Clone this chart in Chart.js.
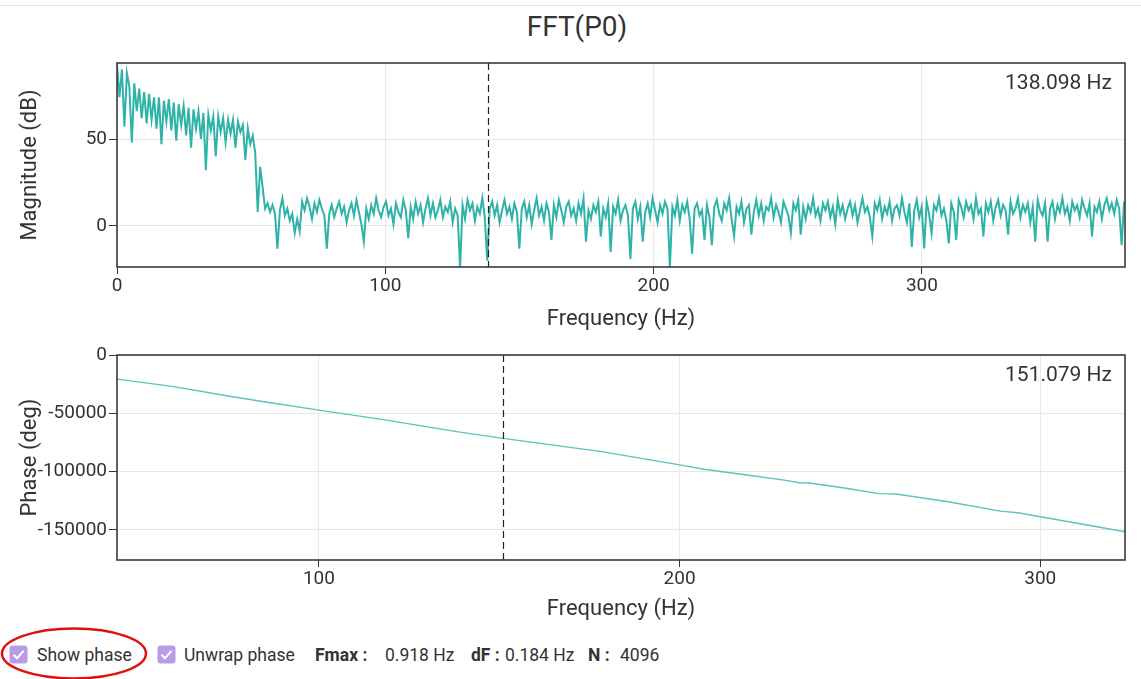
<!DOCTYPE html>
<html>
<head>
<meta charset="utf-8">
<script src="https://cdn.jsdelivr.net/npm/chart.js@4.4.1/dist/chart.umd.min.js"></script>
<style>
  body{margin:0;width:1141px;height:679px;background:#fff;position:relative;overflow:hidden;font-family:Roboto,"Noto Sans",sans-serif;color:#333}
  .topline{position:absolute;left:0;right:0;top:5px;height:1px;background:#e2e2e2;box-shadow:0 1px 3px rgba(0,0,0,0.05)}
  #title{position:absolute;left:477px;width:200px;top:10px;text-align:center;font-size:28px;line-height:33px;color:#333}
  .cw{position:absolute;left:0;width:1141px;height:300px}
  #w1{top:40px}
  #w2{top:330px}
  .lbl{position:absolute;top:645px;font-size:17.5px;line-height:20px;color:#333;white-space:nowrap}
  .b{font-weight:bold}
  .cb{position:absolute;top:645px}
  #ring{position:absolute;left:0;top:626px}
</style>
</head>
<body>
<div class="topline"></div>
<div id="title">FFT(P0)</div>
<div class="cw" id="w1"><canvas id="c1" width="1141" height="300"></canvas></div>
<div class="cw" id="w2"><canvas id="c2" width="1141" height="300"></canvas></div>

<svg class="cb" style="left:9px" width="19" height="19"><rect x="0.5" y="0.5" width="18" height="18" rx="3" fill="#b79ce8"/><path d="M4.5 9.8 L8 13.2 L14.5 5.8" stroke="#fff" stroke-width="2" fill="none"/></svg>
<span class="lbl" style="left:37px">Show phase</span>
<svg class="cb" style="left:157px" width="19" height="19"><rect x="0.5" y="0.5" width="18" height="18" rx="3" fill="#b79ce8"/><path d="M4.5 9.8 L8 13.2 L14.5 5.8" stroke="#fff" stroke-width="2" fill="none"/></svg>
<span class="lbl" style="left:184px">Unwrap phase</span>
<span class="lbl b" style="left:315px">Fmax :</span>
<span class="lbl" style="left:385px">0.918 Hz</span>
<span class="lbl b" style="left:471px">dF :</span>
<span class="lbl" style="left:505px">0.184 Hz</span>
<span class="lbl b" style="left:588px">N :</span>
<span class="lbl" style="left:620px">4096</span>
<svg id="ring" width="152" height="54"><ellipse cx="74" cy="27.5" rx="72" ry="25" fill="none" stroke="#e01010" stroke-width="2.5"/></svg>

<script>
// ---------- DATA ----------
const magFreqStep = 0.92;           // Hz between magnitude samples
const magValues = [
  93, 74, 90, 57, 88, 80, 48, 82, 66, 79,
  62, 77, 59, 76, 61, 74, 56, 74, 47, 72,
  60, 73, 55, 71, 49, 70, 58, 69, 52, 68,
  45, 67, 56, 66, 50, 65, 32, 64, 55, 63,
  40, 63, 54, 62, 48, 61, 53, 61, 45, 60,
  54, 58, 38, 56, 47, 52, 42, 8, 34, 22,
  10, 13, 8, 12, 7, -13, 9, 16, 6, 10,
  3, 7, -4, 4, -3,
  14, 9, 16, 11, 4, 13, 8, 15, 10, 6,
  -13, 7, 12, 5, 10, 14, 7, 11, 2, 9,
  13, 6, 15, 8, 1, -9, 10, 4, 12, 7,
  16, 9, 5, 11, 14, 6, 10, 1, 13, 8,
  5, 15, 9, -7, 11, 4, 14, 7, 12, 2,
  10, 16, 6, 13, 5, 9, 15, 5, 11, 8,
  14, 2, 10, 6, -24, 12, 4, 15, 9, 13,
  3, 11, 7, 16, 5, -20, 10, 14, 6, 12,
  2, 9, 15, 7, 11, 4, 13, 8, -13, 10,
  14, 5, 12, 1, 9, 16, 6, 11, 3, 13,
  8, -8, 12, 5, 15, 9, 2, 11, 14, 6,
  10, 3, 13, 7, 16, -9, 9, 4, 12, 8,
  14, -6, 10, 5, 13, -15, 11, 7, 15, 3,
  9, 12, 6, -19, 10, 14, 4, 11, -9, 8,
  13, 5, 16, 9, 2, 12, 7, 14, 10, -24,
  11, 6, 15, 3, 12, 8, 14, 4, -16, 10,
  13, 6, 9, -8, 12, 5, -11, 11, 15, 7,
  3, 13, 9, 16, 4, -6, 11, 7, 14, 2,
  10, 12, -5, 8, 15, 6, 13, 3, 11, 9,
  16, 5, 12, 8, 2, 14, 10, 6, -4, 13,
  9, 15, -5, 11, 4, 12, 8, 16, 6, 10,
  3, 13, 9, 14, 5, 11, 1, 15, 7, 12,
  4, 10, 14, 6, 12, 2, 9, 16, 8, 11,
  5, -6, 13, 9, 15, 4, 11, 7, 14, 3,
  10, 12, 6, 16, 8, 2, 13, -12, 9, 15,
  5, 11, -13, 14, 7, -4, 12, 9, 16, 6,
  10, 3, -10, 13, 8, -8, 15, 11, 5, 14,
  9, 12, 4, 16, 7, 10, -6, 13, 8, 14,
  3, 11, 15, 6, 12, 9, -5, 14, 7, 10,
  16, 5, 12, 8, 13, 2, 11, -9, 15, 9,
  6, 13, -9, 10, 14, 4, 12, 8, 16, 7,
  11, 3, 14, 9, 12, 5, 15, 10, 6, 13,
  -6, 11, 8, 14, 4, 12, 16, 9, 13, 7,
  15, 10, -11, 14
];
const phaseFreqs  = [44, 59.3, 75.2, 85.7, 100, 117.4, 138.6, 150.6, 165, 178.4, 200, 207.2, 219.7, 229, 233.2, 236, 245.7, 255.3, 260, 274.5, 288.9, 293.8, 300, 313, 323.5];
const phaseValues = [-20700, -26900, -35400, -40500, -47300, -55200, -65900, -71300, -77300, -82900, -94200, -98200, -103300, -107300, -109500, -109800, -114000, -118900, -119200, -125900, -133900, -135300, -138700, -145800, -151600];

const magXRange = [0, 375.7];
const magYRange = [-23.6, 93.7];
const magXTicks = [0, 100, 200, 300];
const magYTicks = [0, 50];
const magCursor = 138.098;

const phaseXRange = [44, 323.5];
const phaseYRange = [-175800, 0];
const phaseXTicks = [100, 200, 300];
const phaseYTicks = [0, -50000, -100000, -150000];
const phaseCursor = 151.079;

// ---------- CHARTS ----------
const FONT = 'Roboto';
const frame = {
  id: 'frame',
  afterDatasetsDraw(chart, args, o) {
    const {ctx, chartArea: a, scales: {x}} = chart;
    ctx.save();
    const px = Math.round(x.getPixelForValue(o.cursor)) + 0.5;
    ctx.strokeStyle = '#222'; ctx.lineWidth = 1.2; ctx.setLineDash([7, 4]);
    ctx.beginPath(); ctx.moveTo(px, a.top); ctx.lineTo(px, a.bottom); ctx.stroke();
    ctx.setLineDash([]);
    ctx.strokeStyle = '#3a3a3a'; ctx.lineWidth = 1.6;
    ctx.strokeRect(a.left, a.top, a.right - a.left, a.bottom - a.top);
    ctx.fillStyle = '#333'; ctx.font = '21px ' + FONT; ctx.textAlign = 'right'; ctx.textBaseline = 'middle';
    ctx.fillText(o.cursor.toFixed(3) + ' Hz', a.right - 13, a.top + 21);
    ctx.restore();
  }
};

function scales(xr, xt, yr, yt, yTitle, xH) {
  return {
    x: {
      type: 'linear', min: xr[0], max: xr[1],
      afterBuildTicks: s => { s.ticks = xt.map(v => ({value: v})); },
      afterFit: s => { s.height = xH; },
      grid: {color: '#e8e8e8', tickColor: '#333', tickLength: 7, lineWidth: 1},
      border: {display: false},
      ticks: {font: {family: FONT, size: 19}, color: '#333', padding: 1, maxRotation: 0, autoSkip: false, callback: v => String(v)},
      title: {display: true, text: 'Frequency (Hz)', font: {family: FONT, size: 22}, color: '#333', padding: {top: 0, bottom: 7}}
    },
    y: {
      type: 'linear', min: yr[0], max: yr[1],
      afterBuildTicks: s => { s.ticks = yt.map(v => ({value: v})); },
      afterFit: s => { s.width = 117; },
      grid: {color: '#e8e8e8', tickColor: '#333', tickLength: 8, lineWidth: 1},
      border: {display: false},
      ticks: {font: {family: FONT, size: 19}, color: '#333', padding: 2, autoSkip: false, callback: v => String(v)},
      title: {display: true, text: yTitle, font: {family: FONT, size: 22}, color: '#333', padding: {top: 17, bottom: 0}}
    }
  };
}

function common(padTop) {
  return {
    responsive: false, animation: false, devicePixelRatio: 1,
    layout: {padding: {top: padTop, right: 16, left: 0, bottom: 0}},
    plugins: {legend: {display: false}, tooltip: {enabled: false}}
  };
}

const magOpts = common(23);
magOpts.scales = scales(magXRange, magXTicks, magYRange, magYTicks, 'Magnitude (dB)', 73);
magOpts.plugins.frame = {cursor: magCursor};
new Chart(document.getElementById('c1'), {
  type: 'line',
  data: {datasets: [{
    data: magValues.map((v, i) => ({x: i * magFreqStep, y: v})),
    borderColor: '#2fb3a8', borderWidth: 2, pointRadius: 0, tension: 0, fill: false
  }]},
  options: magOpts,
  plugins: [frame]
});

const phOpts = common(25);
phOpts.scales = scales(phaseXRange, phaseXTicks, phaseYRange, phaseYTicks, 'Phase (deg)', 70);
phOpts.plugins.frame = {cursor: phaseCursor};
new Chart(document.getElementById('c2'), {
  type: 'line',
  data: {datasets: [{
    data: phaseFreqs.map((f, i) => ({x: f, y: phaseValues[i]})),
    borderColor: '#5cc4bc', borderWidth: 1.4, pointRadius: 0, tension: 0, fill: false
  }]},
  options: phOpts,
  plugins: [frame]
});
</script>
</body>
</html>
